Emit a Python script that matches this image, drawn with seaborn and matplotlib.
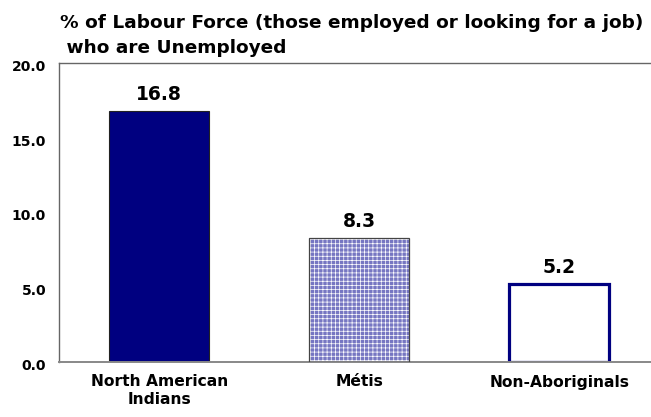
import matplotlib
matplotlib.use("Agg")
import matplotlib.pyplot as plt
import matplotlib.transforms as mtransforms
import seaborn as sns
import pandas as pd

categories = ["North American\nIndians", "Métis", "Non-Aboriginals"]
values = [16.8, 8.3, 5.2]
yticks = [0.0, 5.0, 10.0, 15.0, 20.0]
title_line1 = "% of Labour Force (those employed or looking for a job)"
title_line2 = " who are Unemployed"

sns.set_theme(style="white")
plt.rcParams["font.family"] = ["DejaVu Sans"]
plt.rcParams["hatch.linewidth"] = 0.5
plt.rcParams["hatch.color"] = "white"

df = pd.DataFrame({"cat": categories, "val": values})

W, H = 651, 417
fig = plt.figure(figsize=(W / 100, H / 100), dpi=100)
ax = fig.add_axes([59.3 / W, (H - 362) / H, 600 / W, 299.3 / H])

sns.barplot(data=df, x="cat", y="val", ax=ax, width=0.5, order=categories,
            color="#000080", saturation=1)

patches = ax.patches
patches[0].set_facecolor("#000080")
patches[0].set_edgecolor("#222222")
patches[0].set_linewidth(0.8)

patches[1].set_facecolor("#7676c2")
patches[1].set_hatch("++++")
patches[1].set_edgecolor("white")
patches[1].set_linewidth(0)

patches[2].set_facecolor("white")
patches[2].set_edgecolor("#000080")
patches[2].set_linewidth(2.3)

# outline for the Métis bar
from matplotlib.patches import Rectangle
m = ax.patches[1]
ax.add_patch(Rectangle(m.get_xy(), m.get_width(), m.get_height(),
                       fill=False, edgecolor="#444444", linewidth=0.9, zorder=3))

ax.bar_label(ax.containers[0], labels=[f"{v:.1f}" for v in values],
             padding=5, fontsize=13.5, fontweight="bold", color="black")

ax.set_ylim(0, 20)
ax.set_xlim(-0.5, 2.5)
ax.set_yticks(yticks)
ax.set_yticklabels([f"{t:.1f}" for t in yticks], fontsize=10, fontweight="bold",
                   color="black")
ax.tick_params(axis="y", length=0, pad=9.5)
ax.tick_params(axis="x", length=0, pad=9)
off = mtransforms.ScaledTranslation(0, -2.5 / 100, fig.dpi_scale_trans)
for lbl in ax.get_yticklabels():
    lbl.set_transform(lbl.get_transform() + off)
for lbl in ax.get_xticklabels():
    lbl.set_fontsize(11.2)
    lbl.set_fontweight("bold")
    lbl.set_color("black")
ax.set_xlabel("")
ax.set_ylabel("")

for s in ["top", "right", "left"]:
    ax.spines[s].set_color("#666666")
    ax.spines[s].set_linewidth(1)
ax.spines["bottom"].set_color("#888888")
ax.spines["bottom"].set_linewidth(1.4)

fig.text(60 / W, 1 - 28 / H, title_line1, ha="left", va="baseline",
         fontsize=13.3, fontweight="bold", color="black")
fig.text(60 / W, 1 - 53 / H, title_line2, ha="left", va="baseline",
         fontsize=13.3, fontweight="bold", color="black")

fig.savefig("out.png", dpi=100)
